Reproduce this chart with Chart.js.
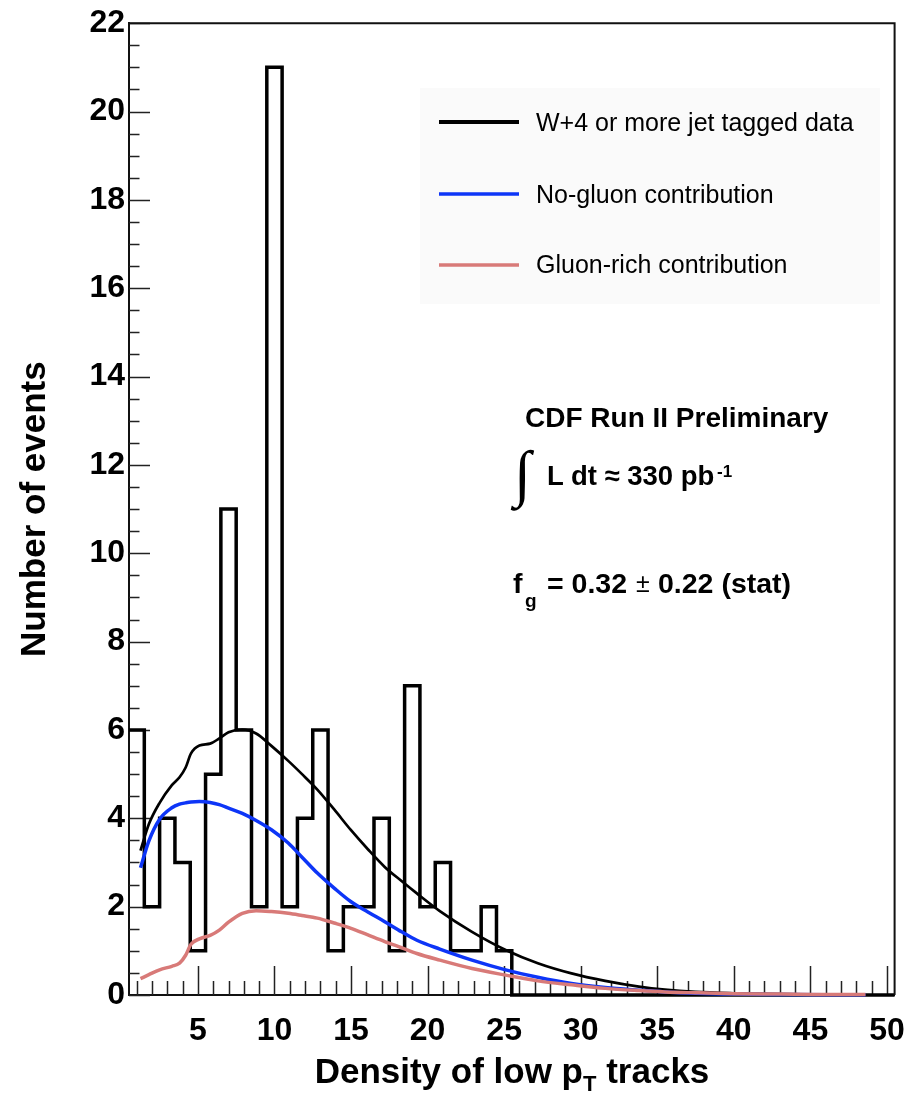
<!DOCTYPE html>
<html>
<head>
<meta charset="utf-8">
<title>Density of low pT tracks</title>
<script src="https://cdn.jsdelivr.net/npm/chart.js@4.4.1/dist/chart.umd.min.js"></script>
<style>
  html, body { margin: 0; padding: 0; background: #fff; }
  #wrap { position: relative; width: 922px; height: 1093px; overflow: hidden; background: #fff; }
  #plot { position: absolute; left: 0; top: 0; }
  #notes { position: absolute; left: 0; top: 0; pointer-events: none; }
  #notes text { font-family: "Liberation Sans", Arial, Helvetica, sans-serif; fill: #000; }
  #notes .b { font-weight: bold; }
</style>
</head>
<body>
<div id="wrap">
  <canvas id="plot" width="922" height="1093"></canvas>
  <svg id="notes" width="922" height="1093" xmlns="http://www.w3.org/2000/svg">
    <!-- legend -->
    <rect x="420" y="88" width="460" height="216" fill="#fafafa"/>
    <line x1="439" y1="122" x2="519" y2="122" stroke="#000" stroke-width="4"/>
    <line x1="439" y1="194" x2="519" y2="194" stroke="#0d35f7" stroke-width="3.5"/>
    <line x1="439" y1="265" x2="519" y2="265" stroke="#d87a78" stroke-width="3.5"/>
    <text x="536" y="131" font-size="25">W+4 or more jet tagged data</text>
    <text x="536" y="203" font-size="25">No-gluon contribution</text>
    <text x="536" y="273" font-size="25">Gluon-rich contribution</text>

    <!-- annotations -->
    <text class="b" x="525" y="427" font-size="28">CDF Run II Preliminary</text>
    <text class="b" x="514" y="494" font-size="62" style="font-family:'Liberation Serif',serif">∫</text>
    <text class="b" x="547" y="485" font-size="27.5">L dt ≈ 330 pb</text>
    <text class="b" x="717" y="477" font-size="17">-1</text>
    <text class="b" x="513" y="593" font-size="28.5">f</text>
    <text class="b" x="525" y="607" font-size="19">g</text>
    <text class="b" x="547" y="593" font-size="28.5">= 0.32</text>
    <text x="636" y="592" font-size="25">±</text>
    <text class="b" x="658" y="593" font-size="28.5">0.22 (stat)</text>

    <!-- x-axis title -->
    <text class="b" x="512" y="1083" font-size="35" text-anchor="middle">Density of low p<tspan font-size="22" dy="8">T</tspan><tspan dy="-8"> tracks</tspan></text>
  </svg>
</div>
<script>
// Axis tick labels
const xTickValues = [5, 10, 15, 20, 25, 30, 35, 40, 45, 50];
const yTickValues = [0, 2, 4, 6, 8, 10, 12, 14, 16, 18, 20, 22];

// Tagged data: events per unit-width bin, bins 0.5-1.5 ... 49.5-50.5
const binCounts = [
  6, 2, 4, 3, 1, 5, 11, 6, 2, 21,
  2, 4, 6, 1, 2, 2, 4, 1, 7, 2,
  3, 1, 1, 2, 1, 0, 0, 0, 0, 0,
  0, 0, 0, 0, 0, 0, 0, 0, 0, 0,
  0, 0, 0, 0, 0, 0, 0, 0, 0, 0
];

// Fit curves sampled along the track density
const curveX = [1.25, 1.8, 2.5, 3.3, 3.8, 4.2, 4.55, 5.1, 5.8, 6.4, 7.0, 7.9, 8.8, 9.8, 10.9, 11.8,
  12.8, 13.9, 15.0, 16.1, 17.2, 18.3, 19.3, 20.8, 22.9, 25.1, 27.2, 29.4, 31.6, 33.8, 35.5,
  37.5, 40.0, 43.0, 46.0, 48.6];
const totalFit = [3.27, 3.87, 4.35, 4.75, 4.93, 5.15, 5.47, 5.65, 5.69, 5.81, 5.95, 6.01, 5.92, 5.64, 5.30, 5.00,
  4.65, 4.20, 3.73, 3.30, 2.90, 2.58, 2.30, 1.90, 1.43, 1.02, 0.72, 0.49, 0.32, 0.19, 0.12,
  0.07, 0.04, 0.02, 0.01, 0.005];
const noGluon = [2.88, 3.49, 3.98, 4.24, 4.32, 4.35, 4.37, 4.38, 4.36, 4.31, 4.23, 4.11, 3.95, 3.74, 3.44, 3.12,
  2.76, 2.42, 2.11, 1.88, 1.66, 1.43, 1.24, 1.04, 0.79, 0.57, 0.40, 0.26, 0.17, 0.11, 0.07,
  0.04, 0.02, 0.01, 0.005, 0.003];
const gluonRich = [0.37, 0.46, 0.57, 0.65, 0.72, 0.90, 1.15, 1.27, 1.35, 1.47, 1.65, 1.85, 1.91, 1.89, 1.85, 1.80,
  1.74, 1.63, 1.51, 1.36, 1.21, 1.07, 0.94, 0.79, 0.60, 0.45, 0.32, 0.23, 0.15, 0.10, 0.07,
  0.05, 0.03, 0.02, 0.01, 0.01];

const BIN_LOW = 0.5;
const BIN_WIDTH = 1;
const FONT = '"Liberation Sans", Arial, Helvetica, sans-serif';

// histogram outline: one point per bin low edge, plus the upper edge of the last bin
const histPoints = binCounts.map((c, i) => ({ x: BIN_LOW + i * BIN_WIDTH, y: c }));
histPoints.push({ x: BIN_LOW + binCounts.length * BIN_WIDTH, y: binCounts[binCounts.length - 1] });
const toPoints = ys => curveX.map((x, i) => ({ x, y: ys[i] }));

// inward tick marks plus the upper/right frame, ROOT style
const frameAndTicks = {
  id: 'frameAndTicks',
  beforeDatasetsDraw(chart) {
    const { ctx, chartArea: a, scales: { x, y } } = chart;
    ctx.save();
    ctx.strokeStyle = '#222';
    ctx.lineWidth = 1.5;
    ctx.beginPath();
    const yStep = (yTickValues[1] - yTickValues[0]) / 4;
    for (let v = yTickValues[0]; v <= yTickValues[yTickValues.length - 1] + 1e-9; v += yStep) {
      const major = yTickValues.some(t => Math.abs(t - v) < 1e-9);
      const py = Math.round(y.getPixelForValue(v)) + 0.5;
      ctx.moveTo(a.left, py);
      ctx.lineTo(a.left + (major ? 21 : 10.5), py);
    }
    const xStep = (xTickValues[1] - xTickValues[0]) / 5;
    for (let v = xStep; v <= xTickValues[xTickValues.length - 1] + 1e-9; v += xStep) {
      const major = xTickValues.some(t => Math.abs(t - v) < 1e-9);
      const px = Math.round(x.getPixelForValue(v)) + 0.5;
      ctx.moveTo(px, a.bottom);
      ctx.lineTo(px, a.bottom - (major ? 29 : 14));
    }
    ctx.stroke();
    ctx.restore();
  },
  afterDraw(chart) {
    const { ctx, chartArea: a } = chart;
    ctx.save();
    ctx.strokeStyle = '#111';
    ctx.lineWidth = 2;
    ctx.beginPath();
    ctx.moveTo(a.left, a.top);
    ctx.lineTo(a.right, a.top);
    ctx.lineTo(a.right, a.bottom);
    ctx.stroke();
    ctx.restore();
  }
};

new Chart(document.getElementById('plot'), {
  type: 'line',
  data: {
    datasets: [
      {
        label: 'W+4 or more jet tagged data',
        data: histPoints,
        stepped: 'before',
        borderColor: '#000',
        borderWidth: 3.5,
        borderJoinStyle: 'miter',
        pointRadius: 0,
        fill: false,
        clip: false,
        order: 4
      },
      {
        label: 'Total fit',
        data: toPoints(totalFit),
        borderColor: '#000',
        borderWidth: 2.7,
        cubicInterpolationMode: 'monotone',
        pointRadius: 0,
        fill: false,
        clip: false,
        order: 3
      },
      {
        label: 'No-gluon contribution',
        data: toPoints(noGluon),
        borderColor: '#0d35f7',
        borderWidth: 3.5,
        cubicInterpolationMode: 'monotone',
        pointRadius: 0,
        fill: false,
        clip: false,
        order: 2
      },
      {
        label: 'Gluon-rich contribution',
        data: toPoints(gluonRich),
        borderColor: '#d87a78',
        borderWidth: 3.5,
        cubicInterpolationMode: 'monotone',
        pointRadius: 0,
        fill: false,
        clip: false,
        order: 1
      }
    ]
  },
  options: {
    responsive: false,
    animation: false,
    devicePixelRatio: 1,
    events: [],
    layout: { padding: { top: 23, right: 26, left: 0, bottom: 0 } },
    plugins: { legend: { display: false }, tooltip: { enabled: false }, title: { display: false } },
    scales: {
      x: {
        type: 'linear',
        min: BIN_LOW,
        max: BIN_LOW + binCounts.length * BIN_WIDTH,
        afterBuildTicks: s => { s.ticks = xTickValues.map(v => ({ value: v })); },
        afterFit: s => { s.height = 98; },
        grid: { display: false, drawTicks: false },
        border: { display: true, color: '#111', width: 2 },
        ticks: {
          autoSkip: false, maxRotation: 0, padding: 17, color: '#000',
          font: { family: FONT, size: 32, weight: 'bold' },
          callback: v => String(v)
        },
        title: { display: false }
      },
      y: {
        type: 'linear',
        min: yTickValues[0],
        max: yTickValues[yTickValues.length - 1],
        afterBuildTicks: s => { s.ticks = yTickValues.map(v => ({ value: v })); },
        afterFit: s => { s.width = 129; },
        grid: { display: false, drawTicks: false },
        border: { display: true, color: '#111', width: 2 },
        ticks: {
          autoSkip: false, padding: 4, color: '#000',
          font: { family: FONT, size: 32, weight: 'bold' },
          callback: v => String(v)
        },
        title: {
          display: true, text: 'Number of events', color: '#000',
          font: { family: FONT, size: 35, weight: 'bold' },
          padding: { top: 14, bottom: 0 }
        }
      }
    }
  },
  plugins: [frameAndTicks]
});
</script>
</body>
</html>
